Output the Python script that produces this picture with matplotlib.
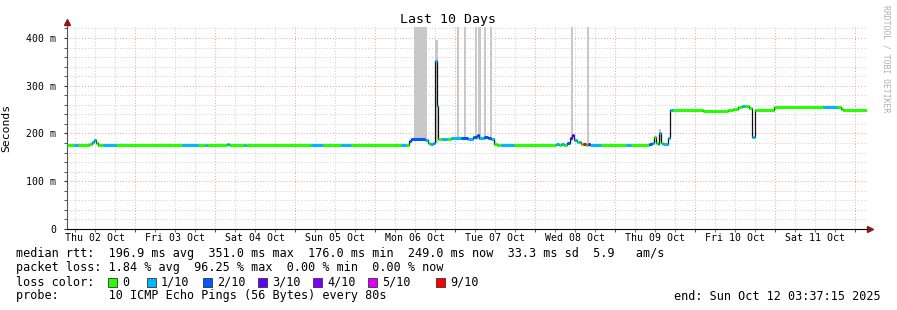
import matplotlib
matplotlib.use("Agg")
import matplotlib.pyplot as plt
from matplotlib.patches import Rectangle
from matplotlib.ticker import MultipleLocator, FixedLocator

# median rtt samples: start hour (since Thu 02 Oct 00:00), ms, lost pings out of 10
hours = [3.6, 5.7, 6.9, 10.2, 11.1, 11.7, 12.3, 12.9, 14.4, 18.3, 38.1, 42.9, 45.0, 45.6,
         51.6, 52.2, 56.7, 57.3, 76.8, 80.4, 85.8, 88.8, 103.8, 105.3, 106.2, 106.8, 111.0,
         111.9, 112.5, 113.4, 114.0, 114.6, 114.9, 116.1, 117.6, 118.8, 121.8, 123.9, 125.4,
         126.6, 127.2, 128.7, 129.9, 130.8, 131.7, 132.6, 133.8, 137.7, 150.3, 151.2, 151.8,
         152.7, 153.6, 154.5, 155.1, 155.7, 156.6, 157.2, 157.8, 158.4, 159.3, 159.9, 160.5,
         163.8, 171.3, 172.8, 178.2, 179.1, 179.7, 180.3, 180.9, 181.2, 181.8, 182.4, 183.9,
         184.5, 185.4, 194.4, 199.8, 201.9, 203.4, 204.9, 206.1, 207.0, 208.2, 209.1, 210.0,
         215.7, 230.4, 234.6, 235.8, 236.4]
rtt = [176, 176, 176, 178, 183, 187, 181, 176, 176, 176, 176, 176, 176, 176,
       177, 176, 176, 176, 176, 176, 176, 176, 176, 176, 184, 189, 186,
       180, 177, 181, 351, 258, 188, 188, 189, 190, 190, 189, 192,
       196, 191, 192, 190, 188, 178, 176, 176, 176, 177, 176, 177,
       176, 181, 190, 197, 187, 183, 182, 177, 179, 176, 177, 175,
       176, 176, 176, 178, 180, 192, 181, 177, 201, 180, 177, 190,
       249, 249, 248, 247, 249, 252, 255, 257, 257, 253, 193, 250,
       255, 255, 255, 252, 249]
loss = [0, 1, 0, 0, 1, 1, 0, 0, 1, 0, 1, 0, 1, 0,
        1, 0, 1, 0, 1, 0, 1, 0, 1, 0, 2, 2, 1,
        0, 1, 1, 1, 1, 0, 1, 0, 1, 2, 1, 2,
        2, 1, 2, 2, 1, 0, 0, 1, 0, 1, 0, 1,
        0, 2, 3, 4, 1, 0, 1, 0, 9, 0, 3, 1,
        0, 1, 0, 2, 1, 0, 0, 1, 1, 0, 1, 1,
        1, 0, 0, 0, 0, 0, 0, 1, 0, 0, 1, 0,
        0, 1, 0, 0, 0]
end_hour = 243.6

# smoke (gray bars): start hour, end hour, low ms, high ms
smoke_start = [107.7, 114.0, 120.45, 122.55, 125.85, 126.9, 128.7, 130.5, 154.8, 159.6, 181.2]
smoke_end = [111.6, 114.9, 121.05, 123.15, 126.6, 127.8, 129.3, 131.1, 155.4, 160.2, 181.8]
smoke_low = [184, 180, 186, 186, 186, 186, 186, 186, 185, 176, 185]
smoke_high = [430, 395, 430, 430, 430, 430, 430, 430, 430, 430, 210]

loss_levels = [0, 1, 2, 3, 4, 5, 9]
loss_labels = ["0", "1/10", "2/10", "3/10", "4/10", "5/10", "9/10"]
loss_colors = ["#26ff00", "#00b8ff", "#0059ff", "#5e00ff", "#7e00ff", "#dd00ff", "#ff0000"]

day_labels = ["Thu 02 Oct", "Fri 03 Oct", "Sat 04 Oct", "Sun 05 Oct", "Mon 06 Oct",
              "Tue 07 Oct", "Wed 08 Oct", "Thu 09 Oct", "Fri 10 Oct", "Sat 11 Oct"]
y_ticks = [0, 100, 200, 300, 400]
y_tick_labels = ["0", "100 m", "200 m", "300 m", "400 m"]

W, H = 897, 310
mono = "DejaVu Sans Mono"
plt.rcParams["font.family"] = mono

fig = plt.figure(figsize=(W / 100, H / 100), dpi=100)
ax = fig.add_axes([67 / W, 81 / H, 800 / W, 202 / H])
ax.set_xlim(3.6, end_hour)
ax.set_ylim(0, 423)

# grid
ax.xaxis.set_minor_locator(MultipleLocator(6))
ax.xaxis.set_major_locator(MultipleLocator(24))
ax.yaxis.set_minor_locator(MultipleLocator(20))
ax.yaxis.set_major_locator(FixedLocator(y_ticks))
ax.grid(which="minor", color="#cccccc", linestyle=(0, (1, 2)), linewidth=0.7)
ax.grid(which="major", color="#e8a0a0", linestyle=(0, (1, 2)), linewidth=0.7)
ax.set_axisbelow(True)

for s, e, lo, hi in zip(smoke_start, smoke_end, smoke_low, smoke_high):
    ax.bar(s, hi - lo, width=e - s, bottom=lo, align="edge", color="#c8c8c8",
           linewidth=0, zorder=2)

# black step for transitions, colored segments on top
xs = hours + [end_hour]
ys = rtt + [rtt[-1]]
ax.step(xs, ys, where="post", color="#111111", linewidth=0.9, zorder=3)
color_of = dict(zip(loss_levels, loss_colors))
for i in range(len(hours)):
    ax.hlines(rtt[i], xs[i], xs[i + 1], color=color_of[loss[i]], linewidth=2.2, zorder=4)

# axes styling
for sp in ["top", "right"]:
    ax.spines[sp].set_visible(False)
ax.spines["left"].set_color("#555555")
ax.spines["bottom"].set_color("#000000")
ax.plot([0, 0], [1, 1.025], transform=ax.transAxes, color="#555555", lw=0.8, clip_on=False)
ax.plot([0], [1.025], marker="^", color="#8b1a1a", markersize=4, transform=ax.transAxes, clip_on=False)
ax.plot([1, 1.004], [0, 0], transform=ax.transAxes, color="#000000", lw=0.8, clip_on=False)
ax.plot([1.004], [0], marker=">", color="#8b1a1a", markersize=4, transform=ax.transAxes, clip_on=False)

ax.set_yticklabels(y_tick_labels)
ax.tick_params(axis="y", which="both", length=2, pad=6, labelsize=7.1, colors="#333333")
ax.tick_params(axis="y", labelcolor="#000000")
ax.tick_params(axis="x", which="both", length=2, labelbottom=False, colors="#555555")
for i, lab in enumerate(day_labels):
    ax.text(12 + 24 * i, -4 / 202, lab, ha="center", va="top", fontsize=7.1,
            transform=ax.get_xaxis_transform(), family=mono)

ax.set_ylabel("Seconds", fontsize=8.2)
ax.yaxis.set_label_coords(-56 / 800, 0.5)

fig.text(448 / W, 1 - 19 / H, "Last 10 Days", ha="center", va="center", fontsize=9.5)
fig.text(886 / W, 1 - 5 / H, "RRDTOOL / TOBI OETIKER", ha="center", va="top",
         rotation=-90, fontsize=5.9, color="#b0b0b0")

fs = 8.5
def ftext(x, y, s, **kw):
    fig.text(x / W, 1 - y / H, s, va="center", fontsize=fs, **kw)

ftext(16, 254, "median rtt:  196.9 ms avg  351.0 ms max  176.0 ms min  249.0 ms now  33.3 ms sd  5.9   am/s")
ftext(16, 268, "packet loss: 1.84 % avg  96.25 % max  0.00 % min  0.00 % now")
ftext(16, 282, "loss color:")
sq_x = [108, 147, 203, 258, 313, 368, 436]
for x, lab, c in zip(sq_x, loss_labels, loss_colors):
    fig.patches.append(Rectangle((x / W, 1 - 287 / H), 9 / W, 9 / H, transform=fig.transFigure,
                                 facecolor=c, edgecolor="#333333", linewidth=0.6))
    ftext(x + 14, 282, lab)
ftext(16, 296, "probe:       10 ICMP Echo Pings (56 Bytes) every 80s")
ftext(881, 296, "end: Sun Oct 12 03:37:15 2025", ha="right")

fig.savefig("out.png", dpi=100)
